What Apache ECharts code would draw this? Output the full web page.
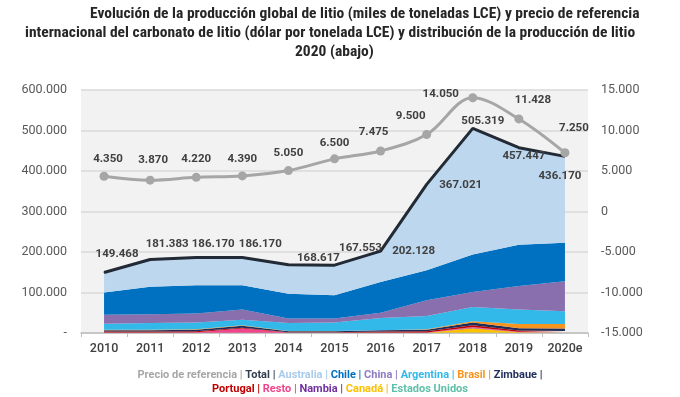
<!DOCTYPE html>
<html>
<head>
    <meta charset="utf-8">
    <script src="https://cdn.jsdelivr.net/npm/echarts@6/dist/echarts.min.js"></script>
    <style type="text/css">
        html, body { width: 100%; height: 100%; }
        * { margin: 0; }
        #chart { width: 680px; height: 397px; background: #fff; }
    </style>
</head>
<body>
<div id="chart"></div>
<script type="text/javascript">
    // años y datos (toneladas LCE / USD por tonelada)
    var years = ['2010', '2011', '2012', '2013', '2014', '2015', '2016', '2017', '2018', '2019', '2020e'];
    var precio = [4350, 3870, 4220, 4390, 5050, 6500, 7475, 9500, 14050, 11428, 7250];
    var total = [149468, 181383, 186170, 186170, 168617, 167553, 202128, 367021, 505319, 457447, 436170];

    // producción por país (apilado de abajo hacia arriba)
    var eeuu      = [500, 500, 500, 500, 500, 500, 500, 500, 1000, 500, 500];
    var canada    = [0, 0, 0, 0, 0, 0, 0, 0, 11000, 1500, 500];
    var nambia    = [0, 0, 0, 0, 0, 0, 0, 0, 1000, 0, 0];
    var resto     = [1000, 1000, 1500, 10500, 500, 500, 1000, 1000, 2000, 1000, 1000];
    var portugal  = [2500, 2500, 2500, 2000, 1000, 1000, 2000, 3000, 4000, 3000, 3000];
    var zimbaue   = [3000, 3000, 3500, 5000, 2500, 2500, 3000, 3500, 7000, 6000, 6000];
    var brasil    = [1000, 1000, 1000, 1000, 500, 500, 500, 1000, 3000, 10000, 11000];
    var argentina = [15000, 17000, 17000, 14000, 20000, 21000, 30000, 33000, 35000, 36000, 32000];
    var china     = [22000, 21000, 22000, 25000, 11000, 10000, 13000, 39000, 37000, 58000, 74000];
    var chile     = [55000, 68000, 70000, 60000, 61000, 57000, 76000, 74000, 93000, 102000, 95000];
    var australia = [49500, 67400, 68200, 68200, 71600, 74600, 76100, 212000, 311300, 239400, 213200];

    // desplazamiento de etiquetas [dx, dy]
    var precioShift = [[4, -2], [3, -5], [0, -3], [0, -1], [0, -2], [0, 0], [-7, -3], [-16, -3], [-32, 12], [14, -3], [9, -9]];
    var totalShift = [[13, -7], [17, -4], [17, -2], [18, -2], [30, 5], [26, -6], [33, 11], [34, 12], [10, 4], [5, 20], [-5, 31]];

    function fmt(v) {
        return Math.round(v).toString().replace(/\B(?=(\d{3})+(?!\d))/g, '.');
    }

    var paises = [
        ['Estados Unidos', eeuu, '#5fbfa8'],
        ['Canadá', canada, '#ffc000'],
        ['Nambia', nambia, '#7030a0'],
        ['Resto', resto, '#f0458a'],
        ['Portugal', portugal, '#c00000'],
        ['Zimbaue', zimbaue, '#1f2d5a'],
        ['Brasil', brasil, '#f7941d'],
        ['Argentina', argentina, '#33b8ea'],
        ['China', china, '#8a6fae'],
        ['Chile', chile, '#0070c0'],
        ['Australia', australia, '#bdd7ee']
    ];

    var series = paises.map(function (p) {
        return {
            name: p[0], type: 'line', stack: 'prod', data: p[1],
            symbol: 'none', lineStyle: { width: 0 },
            areaStyle: { color: p[2], opacity: 1 }, itemStyle: { color: p[2] },
            z: 2
        };
    });

    var labelFont = { fontFamily: 'Roboto', fontWeight: 'bold', fontSize: 11.5, color: '#404040' };

    function conEtiqueta(valores, shift) {
        return valores.map(function (v, i) {
            return { value: v, label: { offset: shift[i] } };
        });
    }

    series.push({
        name: 'Total', type: 'line', data: conEtiqueta(total, totalShift),
        symbol: 'circle', symbolSize: 1, showSymbol: true,
        lineStyle: { color: '#222a35', width: 3 }, itemStyle: { color: '#222a35' }, z: 4,
        label: Object.assign({ show: true, position: 'top', distance: 5, formatter: function (p) { return fmt(p.value); } }, labelFont)
    });

    series.push({
        name: 'Precio de referencia', type: 'line', yAxisIndex: 1, data: conEtiqueta(precio, precioShift),
        smooth: 0.35, symbol: 'circle', symbolSize: 9,
        lineStyle: { color: '#a6a6a6', width: 3 }, itemStyle: { color: '#a6a6a6' }, z: 5,
        label: Object.assign({ show: true, position: 'top', distance: 5, formatter: function (p) { return fmt(p.value); } }, labelFont)
    });

    // leyenda como texto coloreado
    var leyenda1 = [['Precio de referencia', 'gris'], ['Total', 'total'], ['Australia', 'aus'], ['Chile', 'chile'],
        ['China', 'china'], ['Argentina', 'arg'], ['Brasil', 'bra'], ['Zimbaue', 'zim']];
    var leyenda2 = [['Portugal', 'por'], ['Resto', 'res'], ['Nambia', 'nam'], ['Canadá', 'can'], ['Estados Unidos', 'usa']];
    function linea(items, last) {
        return items.map(function (it, i) {
            var sep = (i < items.length - 1 || !last) ? ' |' : '';
            return '{' + it[1] + '|' + it[0] + sep + '}';
        }).join('{sp| }');
    }
    var rich = {
        gris: { fill: '#a6a6a6' }, total: { fill: '#333f50' }, aus: { fill: '#a9cbea' },
        chile: { fill: '#0070c0' }, china: { fill: '#8e7cc3' }, arg: { fill: '#33b8ea' },
        bra: { fill: '#f7941d' }, zim: { fill: '#1f2d5a' }, por: { fill: '#c00000' },
        res: { fill: '#f0458a' }, nam: { fill: '#7030a0' }, can: { fill: '#ffc000' },
        usa: { fill: '#5fbfa8' }, sp: { fill: '#404040' }
    };
    Object.keys(rich).forEach(function (k) {
        rich[k].fontFamily = 'Roboto'; rich[k].fontWeight = 'bold'; rich[k].fontSize = 11; rich[k].lineHeight = 15;
    });

    var titleFont = { fontFamily: '"Liberation Sans Narrow", "Roboto Condensed", "DejaVu Sans Condensed", sans-serif', fontWeight: 'bold', fontSize: 15.5, fill: '#262626' };

    var option = {
        animation: false,
        backgroundColor: '#ffffff',
        graphic: [
            { type: 'text', left: 90, top: 6, style: Object.assign({ text: 'Evolución de la producción global de litio (miles de toneladas LCE) y precio de referencia' }, titleFont) },
            { type: 'text', left: 25, top: 25, style: Object.assign({ text: 'internacional del carbonato de litio (dólar por tonelada LCE) y distribución de la producción de litio' }, titleFont) },
            { type: 'text', left: 295, top: 44, style: Object.assign({ text: '2020 (abajo)' }, titleFont) },
            { type: 'text', left: 'center', top: 370, style: { text: linea(leyenda1, false), rich: rich } },
            { type: 'text', left: 'center', top: 384, style: { text: linea(leyenda2, true), rich: rich } }
        ],
        grid: { left: 81, right: 92, top: 90, bottom: 64, show: true, backgroundColor: '#f2f2f2', borderWidth: 0 },
        xAxis: {
            type: 'category', data: years, boundaryGap: true,
            axisLine: { lineStyle: { color: '#bfbfbf', width: 1.5 } },
            axisTick: { show: true, length: 4, lineStyle: { color: '#bfbfbf' } },
            axisLabel: { interval: 0, color: '#404040', fontFamily: 'Roboto', fontSize: 12.5, fontWeight: 500, margin: 9 }
        },
        yAxis: [{
            type: 'value', min: 0, max: 600000, interval: 100000,
            axisLine: { show: false }, axisTick: { show: false },
            splitLine: { lineStyle: { color: '#d9d9d9', width: 1.5 } },
            axisLabel: { color: '#595959', fontFamily: 'Roboto', fontSize: 12.5, margin: 14,
                formatter: function (v) { return v === 0 ? '-' : fmt(v); } }
        }, {
            type: 'value', min: -15000, max: 15000, interval: 5000,
            axisLine: { show: false }, axisTick: { show: false }, splitLine: { show: false },
            axisLabel: { color: '#595959', fontFamily: 'Roboto', fontSize: 12.5, margin: 13,
                formatter: function (v) { return fmt(v); } }
        }],
        series: series
    };

    var myChart = echarts.init(document.getElementById('chart'));
    myChart.setOption(option);
</script>
</body>
</html>
